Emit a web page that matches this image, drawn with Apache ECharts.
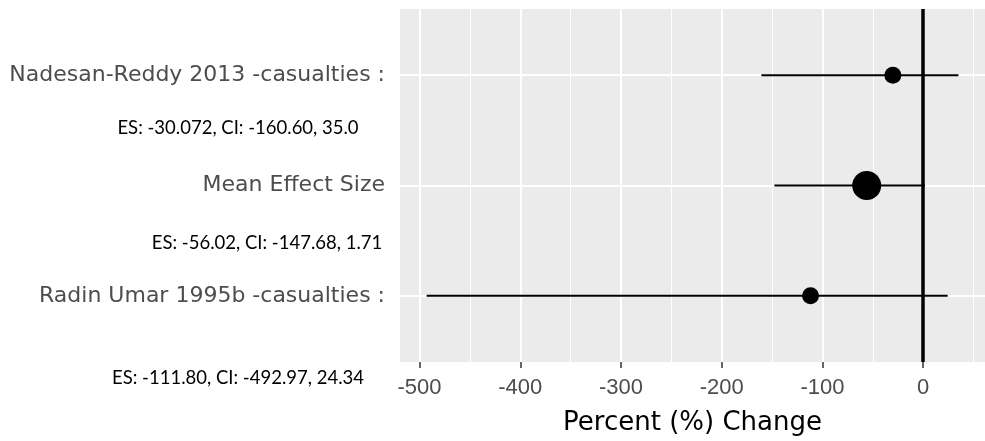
<!DOCTYPE html>
<html>
<head>
<meta charset="utf-8">
<script src="https://cdn.jsdelivr.net/npm/echarts@6/dist/echarts.min.js"></script>
<style>
  html, body { margin: 0; padding: 0; background: #fff; }
  #chart { width: 985px; height: 441px; }
</style>
</head>
<body>
<div id="chart"></div>
<script>
// rows from bottom to top
const studies = ['Radin Umar 1995b -casualties :', 'Mean Effect Size', 'Nadesan-Reddy 2013 -casualties :'];
const effectSize = [-111.80, -56.02, -30.072];
const ciLow = [-492.97, -147.68, -160.60];
const ciHigh = [24.34, 1.71, 35.0];
const pointSize = [17, 29, 17];
const notes = ['ES: -111.80, CI: -492.97, 24.34', 'ES: -56.02, CI: -147.68, 1.71', 'ES: -30.072, CI: -160.60, 35.0'];

const xTicks = [-500, -400, -300, -200, -100, 0];
const xMinor = [-450, -350, -250, -150, -50, 50];
const rowPos = studies.map((s, i) => i + 1);

const chart = echarts.init(document.getElementById('chart'));

const fontFamily = '"Liberation Sans", Arial, sans-serif';
const wideFont = '"DejaVu Sans", sans-serif';

const options = {
  animation: false,
  grid: {
    left: 400, right: 0, top: 9, bottom: 76,
    show: true, backgroundColor: '#ebebeb', borderWidth: 0
  },
  xAxis: {
    type: 'value',
    min: -519.4,
    max: 61.4,
    axisLine: { show: false },
    axisTick: { show: true, customValues: xTicks, length: 6, lineStyle: { color: '#333', width: 1.5 } },
    axisLabel: { customValues: xTicks, color: '#4d4d4d', fontSize: 22, fontFamily, margin: 15 },
    splitLine: { show: false },
    name: 'Percent (%) Change',
    nameLocation: 'middle',
    nameGap: 48,
    nameTextStyle: { color: '#000', fontSize: 26, fontFamily: wideFont }
  },
  yAxis: {
    type: 'value',
    min: 0.4,
    max: 3.6,
    axisLine: { show: false },
    axisTick: { show: true, customValues: rowPos, length: 6, lineStyle: { color: '#333', width: 1.5 } },
    axisLabel: {
      customValues: rowPos,
      formatter: (v) => studies[Math.round(v) - 1],
      color: '#4d4d4d', fontSize: 22, fontFamily: wideFont, margin: 15
    },
    splitLine: { show: false }
  },
  graphic: notes.map((t, i) => ({
    type: 'text',
    x: [238, 267, 238][i],
    y: [378, 243, 128][i],
    style: {
      text: t, fill: '#000', font: '18.5px Lato, "Open Sans", sans-serif',
      textAlign: 'center', textVerticalAlign: 'middle'
    }
  })),
  series: [
    {
      // panel grid lines
      type: 'line',
      data: [],
      z: 1,
      markLine: {
        z: 1,
        silent: true, symbol: 'none', label: { show: false },
        data: [
          ...xMinor.map(v => ({ xAxis: v, lineStyle: { color: '#fff', width: 1, type: 'solid' } })),
          ...xTicks.map(v => ({ xAxis: v, lineStyle: { color: '#fff', width: 2, type: 'solid' } })),
          ...rowPos.map(v => ({ yAxis: v, lineStyle: { color: '#fff', width: 2, type: 'solid' } }))
        ]
      }
    },
    {
      // confidence intervals
      type: 'custom',
      z: 3,
      encode: { x: [0, 1], y: 2 },
      data: rowPos.map((y, i) => [ciLow[i], ciHigh[i], y]),
      renderItem: (params, api) => {
        const a = api.coord([api.value(0), api.value(2)]);
        const b = api.coord([api.value(1), api.value(2)]);
        return {
          type: 'line',
          shape: { x1: a[0], y1: a[1], x2: b[0], y2: b[1] },
          style: { stroke: '#000', lineWidth: 2 }
        };
      }
    },
    {
      // zero reference line
      type: 'line',
      data: [],
      z: 4,
      markLine: {
        z: 4,
        silent: true, symbol: 'none', label: { show: false },
        data: [{ xAxis: 0, lineStyle: { color: '#000', width: 3.5, type: 'solid' } }]
      }
    },
    {
      type: 'scatter',
      z: 5,
      data: rowPos.map((y, i) => ({ value: [effectSize[i], y], symbolSize: pointSize[i] })),
      itemStyle: { color: '#000', opacity: 1 }
    }
  ]
};

chart.setOption(options);
</script>
</body>
</html>
